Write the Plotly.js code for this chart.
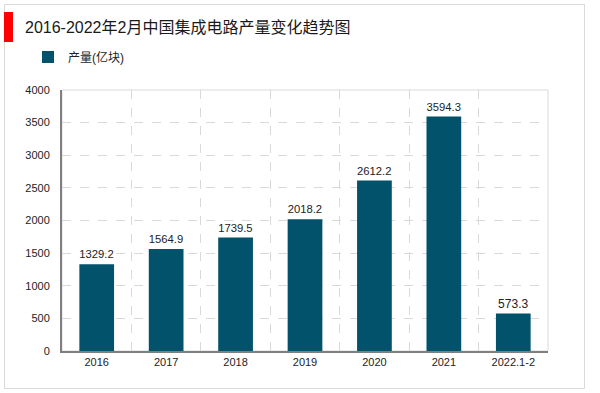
<!DOCTYPE html>
<html><head><meta charset="utf-8">
<script src="https://cdn.plot.ly/plotly-3.0.1.min.js"></script>
<style>html,body{margin:0;padding:0;background:#fff}#chart{width:600px;height:393px}</style>
</head><body><div id="chart"></div>
<script>
const categories = ["2016","2017","2018","2019","2020","2021","2022.1-2"];
const values = [1329.2,1564.9,1739.5,2018.2,2612.2,3594.3,573.3];
const labels = ["1329.2","1564.9","1739.5","2018.2","2612.2","3594.3","573.3"];
const seriesName = "产量(亿块)";
const chartTitle = "2016-2022年2月中国集成电路产量变化趋势图";

const FONT = "Liberation Sans, Arial, Noto Sans CJK SC, sans-serif";
const L = 62, R = 548, T = 90, B = 351;
const px = x => (x - L) / (R - L);
const py = y => (B - y) / (B - T);

Plotly.newPlot("chart", [{
  type: "bar", x: categories, y: values, name: seriesName,
  marker: {color: "#02526b"},
  text: labels, textposition: "outside", cliponaxis: false,
  textfont: {family: FONT, size: 12, color: "#222"}
}], {
  width: 600, height: 393,
  margin: {l: L, r: 600 - R, t: T, b: 393 - B, pad: 0},
  paper_bgcolor: "#fff", plot_bgcolor: "#fff",
  bargap: 0.5,
  title: {text: chartTitle, font: {family: FONT, size: 16, color: "#1a1a1a"},
          xref: "container", yref: "container", x: 25/600, xanchor: "left", y: 1 - 27/393, yanchor: "middle"},
  showlegend: true,
  legend: {x: px(28), y: py(57), xanchor: "left", yanchor: "middle", orientation: "h",
           font: {family: FONT, size: 12, color: "#222"}, itemwidth: 30, bgcolor: "rgba(0,0,0,0)"},
  xaxis: {type: "category", tickson: "boundaries", showgrid: true, griddash: "dash", gridcolor: "#d9d9d9", gridwidth: 1,
          ticks: "", showline: true, linecolor: "#7f7f7f", linewidth: 2,
          tickfont: {family: FONT, size: 11, color: "#222"}, fixedrange: true},
  yaxis: {range: [0, 4000], dtick: 500, showgrid: true, griddash: "dash", gridcolor: "#d9d9d9", gridwidth: 1,
          zeroline: false, showline: true, linecolor: "#7f7f7f", linewidth: 2, ticks: "", ticklen: 0,
          tickfont: {family: FONT, size: 11, color: "#222"}, ticklabelstandoff: 8},
  shapes: [
    {type: "rect", xref: "paper", yref: "paper", x0: 0, x1: 1, y0: 0, y1: 1, line: {color: "#d9d9d9", width: 1}, layer: "below"},
    {type: "rect", xref: "paper", yref: "paper", x0: px(4.5), x1: px(584.5), y0: py(4.5), y1: py(388.5), line: {color: "#d9d9d9", width: 1}, layer: "below"},
    {type: "rect", xref: "paper", yref: "paper", x0: px(4), x1: px(13), y0: py(12), y1: py(42), line: {width: 0}, fillcolor: "#ff0000"}
  ]
}, {displayModeBar: false, staticPlot: true});
</script></body></html>
